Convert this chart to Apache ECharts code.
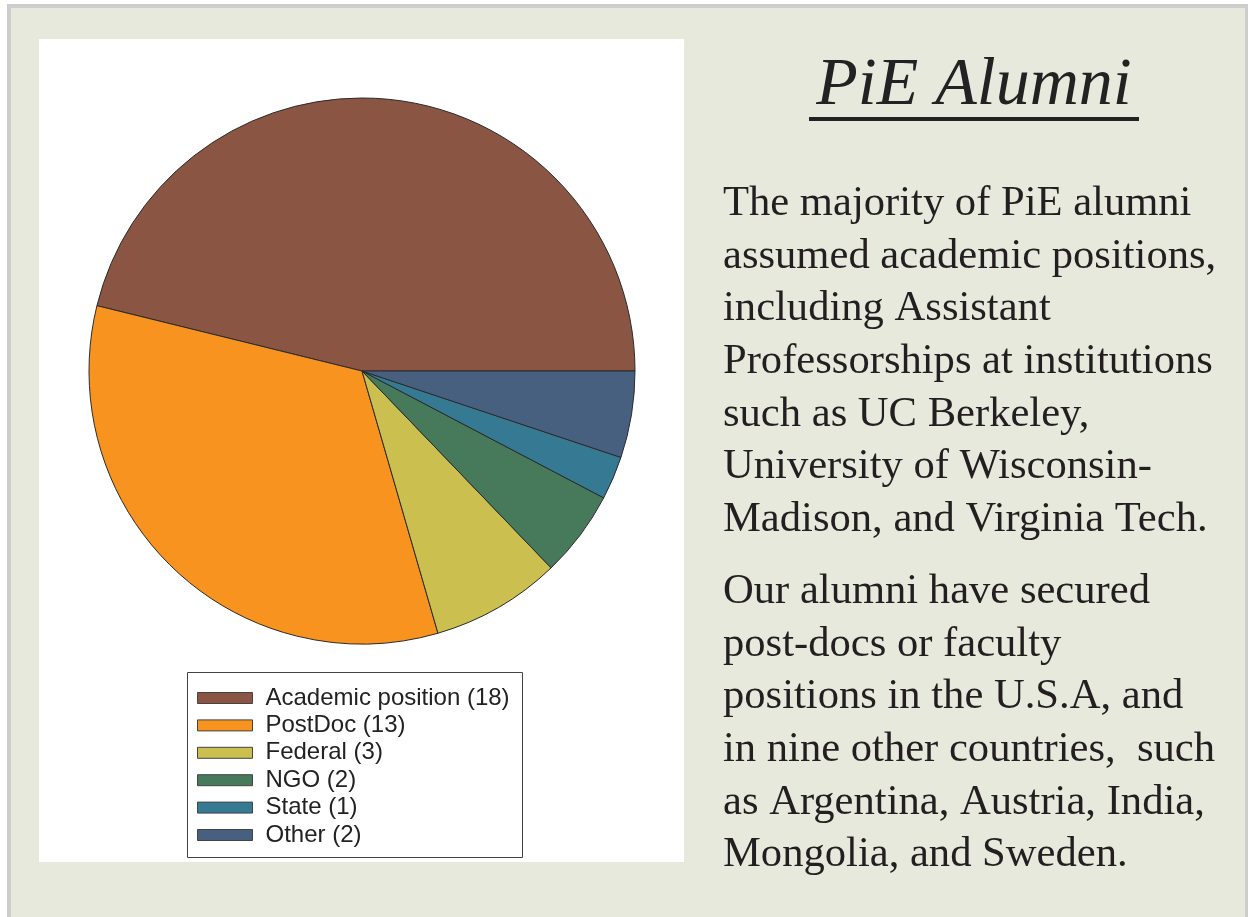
<!DOCTYPE html>
<html>
<head>
<meta charset="utf-8">
<script src="https://cdn.jsdelivr.net/npm/echarts@6/dist/echarts.min.js"></script>
<style>
  html, body { margin: 0; padding: 0; background: #fff; }
  #main { width: 1248px; height: 917px; }
</style>
</head>
<body>
<div id="main"></div>
<script>
var dom = document.getElementById("main");
var myChart = echarts.init(dom);

// data
var categories = ['Academic position', 'PostDoc', 'Federal', 'NGO', 'State', 'Other'];
var counts = [18, 13, 3, 2, 1, 2];
var colors = ['#8b5543', '#f7931e', '#cbbf50', '#467a5a', '#357a92', '#47607f'];

var title = 'PiE Alumni';
var para1 = [
    'The majority of PiE alumni',
    'assumed academic positions,',
    'including Assistant',
    'Professorships at institutions',
    'such as UC Berkeley,',
    'University of Wisconsin-',
    'Madison, and Virginia Tech.'
];
var para2 = [
    'Our alumni have secured',
    'post-docs or faculty',
    'positions in the U.S.A, and',
    'in nine other countries,  such',
    'as Argentina, Austria, India,',
    'Mongolia, and Sweden.'
];

var pieData = [];
for (var i = 0; i < categories.length; i++) {
    pieData.push({ name: categories[i], value: counts[i], itemStyle: { color: colors[i] } });
}

var graphics = [
    { type: 'rect', shape: { x: 7, y: 4, width: 1241, height: 920 }, style: { fill: '#cdcdcd' }, z: -10 },
    { type: 'rect', shape: { x: 11, y: 8, width: 1234, height: 915 }, style: { fill: '#e6e9dc' }, z: -9 },
    { type: 'rect', shape: { x: 39, y: 39, width: 645, height: 823 }, style: { fill: '#ffffff' }, z: -8 },
    { type: 'rect', shape: { x: 187.5, y: 672.5, width: 335, height: 185 }, style: { fill: '#ffffff', stroke: '#444', lineWidth: 1 }, z: -7 },
    {
        type: 'text', x: 974, y: 86,
        style: {
            text: title, font: 'italic 68px "Liberation Serif"', fill: '#222',
            textAlign: 'center', textVerticalAlign: 'middle'
        }
    },
    { type: 'rect', shape: { x: 809, y: 117, width: 330, height: 4 }, style: { fill: '#222' } }
];

function addLines(lines, y0) {
    for (var j = 0; j < lines.length; j++) {
        graphics.push({
            type: 'text', x: 723, y: y0 + j * 52.6,
            style: {
                text: lines[j], font: '42.6px "Liberation Serif"', fill: '#231f20',
                textVerticalAlign: 'middle'
            }
        });
    }
}
addLines(para1, 204);
addLines(para2, 592);

var option = {
    animation: false,
    legend: {
        orient: 'vertical',
        left: 197,
        top: 686,
        padding: 0,
        itemWidth: 55,
        itemHeight: 11,
        itemGap: 3.4,
        icon: 'rect',
        selectedMode: false,
        itemStyle: { borderColor: '#444', borderWidth: 1 },
        textStyle: {
            fontFamily: 'Liberation Sans', fontSize: 24,
            color: '#222', padding: [0, 0, 0, 8]
        },
        formatter: function (name) {
            var k = categories.indexOf(name);
            return name + ' (' + counts[k] + ')';
        },
        data: categories
    },
    graphic: graphics,
    series: [{
        type: 'pie',
        center: [362, 371],
        radius: 273,
        startAngle: 0,
        clockwise: false,
        silent: true,
        label: { show: false },
        labelLine: { show: false },
        itemStyle: { borderColor: '#2b2b2b', borderWidth: 1 },
        data: pieData
    }]
};

myChart.setOption(option);
</script>
</body>
</html>
